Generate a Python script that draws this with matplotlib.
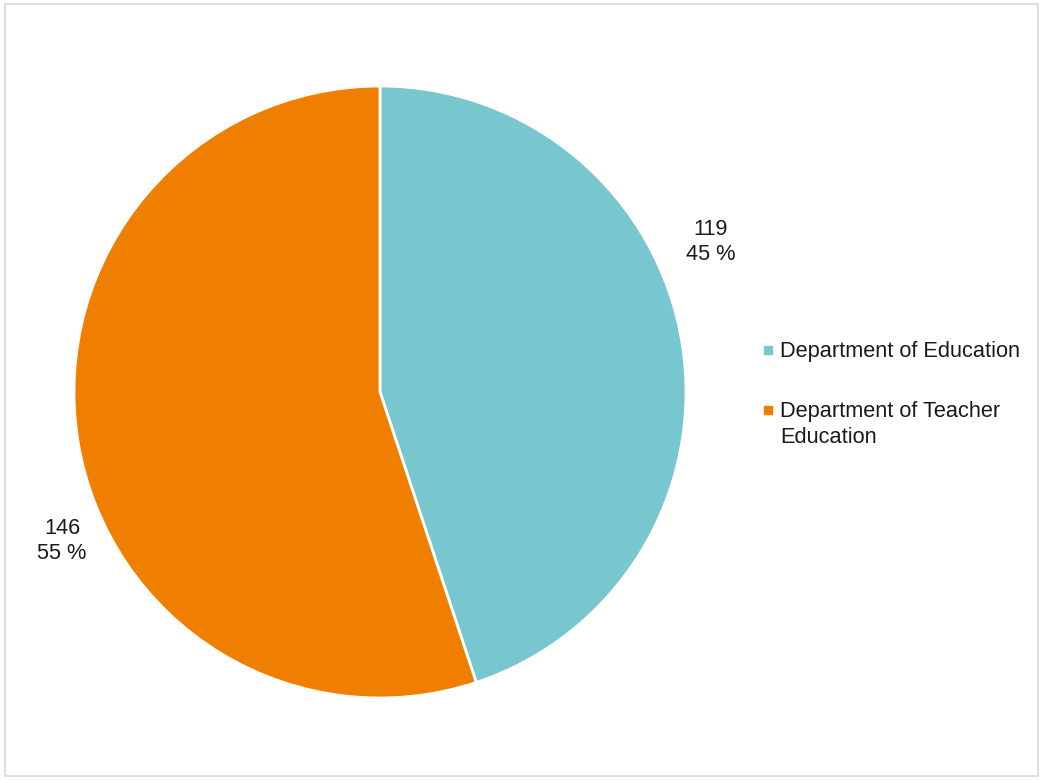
import matplotlib
matplotlib.use("Agg")
import matplotlib.pyplot as plt
from matplotlib.lines import Line2D
from matplotlib.patches import Rectangle
import numpy as np

plt.rcParams['font.family'] = ['Liberation Sans', 'DejaVu Sans']

categories = ["Department of Education", "Department of Teacher\nEducation"]
values = [119, 146]
percent_labels = ["45 %", "55 %"]
colors = ["#78C7CF", "#F07F00"]

W, H = 1043, 780
fig = plt.figure(figsize=(W / 100, H / 100), dpi=100)
fig.patch.set_facecolor("white")

# border
fig.add_artist(Rectangle((5 / W, 4 / H), 1033 / W, 772 / H, transform=fig.transFigure,
                         fill=False, edgecolor="#d9d9d9", lw=1.2))

cx, cy, r = 380, H - 392, 306
ax = fig.add_axes([(cx - r) / W, (cy - r) / H, 2 * r / W, 2 * r / H])
wedges, _ = ax.pie(values, colors=colors, startangle=90, counterclock=False,
                   radius=1, wedgeprops=dict(edgecolor="white", linewidth=2))
ax.set_xlim(-1, 1)
ax.set_ylim(-1, 1)
ax.set_aspect("equal")
ax.axis("off")

FS = 15.7
label_pos = [(331 / r, 150 / r), (-318 / r, -149 / r)]
for v, p, (lx, ly) in zip(values, percent_labels, label_pos):
    ax.text(lx, ly, f"{v}\n{p}", ha="center", va="center", fontsize=FS,
            color="#1a1a1a", linespacing=1.3, clip_on=False)

# legend drawn manually so the marker aligns with the first text line
leg_y = [350, 410]
for c, lab, y in zip(colors, categories, leg_y):
    fig.add_artist(Line2D([768 / W], [1 - y / H], transform=fig.transFigure,
                          marker="s", linestyle="none", markersize=6,
                          markerfacecolor=c, markeredgecolor=c))
    fig.text(780 / W, 1 - (y - 9) / H, lab, ha="left", va="top", fontsize=FS,
             color="#1a1a1a", linespacing=1.3)

fig.savefig("out.png", dpi=100, facecolor="white")
